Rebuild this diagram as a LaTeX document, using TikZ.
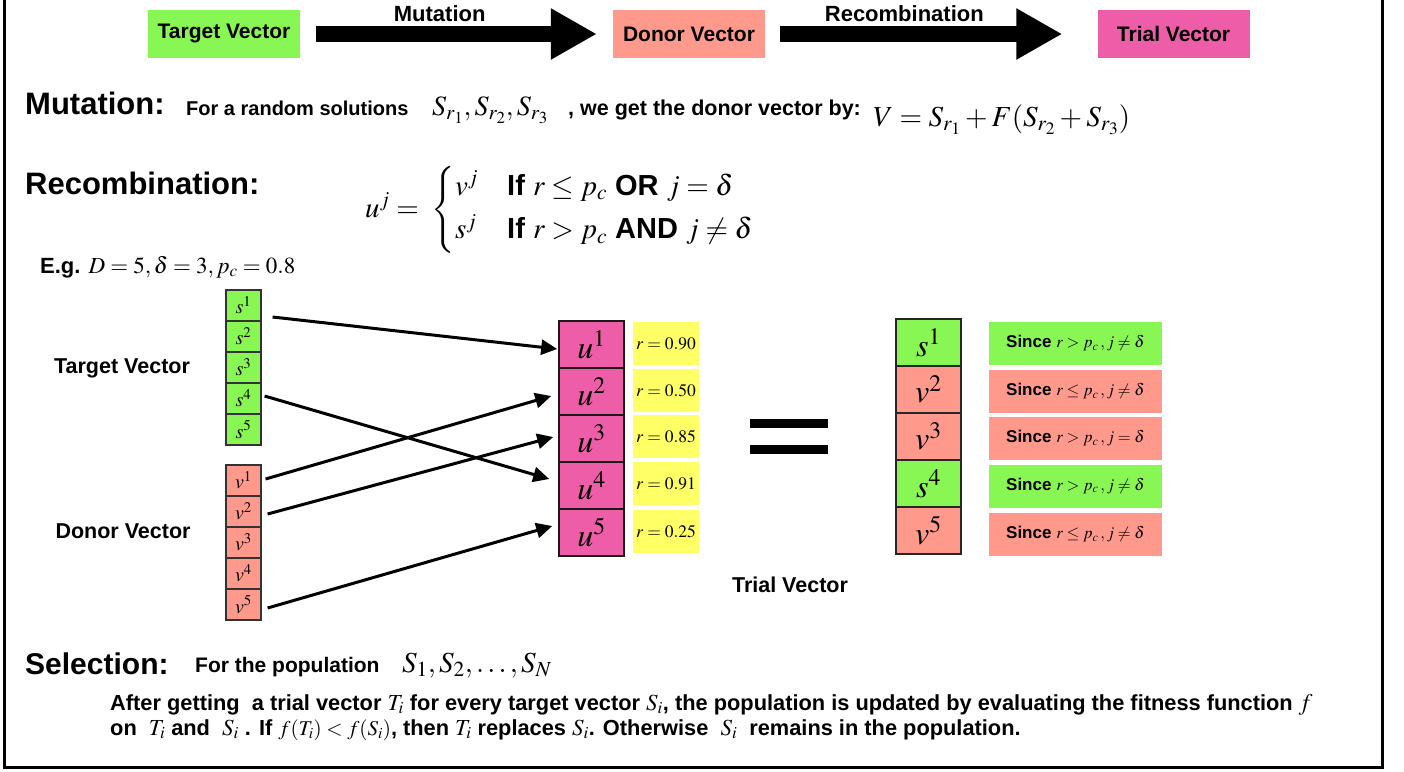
\documentclass[tikz,border=0pt]{standalone}
\usepackage{amsmath}
\usepackage{mathptmx}
\usepackage[no-math]{fontspec}
\setmainfont{Liberation Sans}
\usetikzlibrary{arrows.meta}
\definecolor{tgreen}{RGB}{137,247,83}
\definecolor{dsalmon}{RGB}{255,153,140}
\definecolor{tpink}{RGB}{238,93,168}
\definecolor{ryellow}{RGB}{255,255,102}
\newcommand{\fsz}[1]{\fontsize{#1}{#1}\selectfont}
\tikzset{
  topbox/.style={minimum width=152pt, minimum height=48pt, inner sep=0pt, font=\fsz{21}\bfseries},
  bigarrow/.style={line width=16pt, -{Triangle[length=46pt,width=48pt]}},
  arrlbl/.style={pos=0.44, anchor=base, yshift=13pt, outer sep=0pt, inner sep=0pt, font=\fsz{22}\bfseries},
  head/.style={anchor=base west, inner sep=0pt, font=\fsz{31}\bfseries},
  txt/.style={anchor=base west, inner sep=0pt, font=\fsz{21}\bfseries},
  lbl/.style={inner sep=0pt, font=\fsz{21.5}\bfseries},
  cell/.style={draw=black!80, line width=1.2pt, minimum width=35pt, minimum height=31pt, inner sep=0pt, font=\fsz{20}},
  ucell/.style={draw=black!90, line width=1.6pt, fill=tpink, minimum width=65pt, minimum height=47pt, inner sep=0pt, font=\fsz{32}},
  tcell/.style={draw=black!85, line width=1.4pt, minimum width=65pt, minimum height=47pt, inner sep=0pt, font=\fsz{32}},
  rbox/.style={fill=ryellow, minimum width=66pt, minimum height=43pt, inner sep=0pt, font=\fsz{17.5}},
  since/.style={minimum width=173pt, minimum height=43pt, inner sep=0pt, font=\fsz{17}\bfseries},
  conn/.style={line width=3pt, -{Triangle[length=16pt,width=15pt]}}
}
\begin{document}
\begin{tikzpicture}[x=1pt,y=-1pt]
\useasboundingbox (0,0) rectangle (1404,771);
% frame
\draw[line width=3pt] (4,0) -- (4,767) -- (1382,767) -- (1382,0);
% top flow
\node[topbox, fill=tgreen] (tv) at (224,34) {Target Vector};
\node[topbox, fill=dsalmon] (dv) at (689,34) {Donor Vector};
\node[topbox, fill=tpink] (trv) at (1173.5,34) {Trial Vector};
\draw[bigarrow] ([xshift=16pt]tv.east) -- ([xshift=-16pt]dv.west) node[arrlbl] (mlbl) {Mutation};
\draw[bigarrow] ([xshift=15pt]dv.east) -- ([xshift=-35pt]trv.west) node[arrlbl] (rlbl) {Recombination};
% mutation row
\node[head] (mh) at (25,114) {Mutation:};
\node[txt, font=\fsz{20}\bfseries] (m1) at (186,115) {For a random solutions};
\node[txt, font=\fsz{28}] (m2) at (432,115) {$S_{r_1}, S_{r_2}, S_{r_3}$};
\node[txt, font=\fsz{21.5}\bfseries] (m3) at (568,115) {, we get the donor vector by:};
\node[txt, font=\fsz{29}] (m4) at (873,126) {$V = S_{r_1} + F(S_{r_2} + S_{r_3})$};
% recombination
\node[head] (rh) at (25,194) {Recombination:};
\node[anchor=west, inner sep=0pt, font=\fsz{29}] (rf) at (365,210) {$u^j = \;\begin{cases} v^j & \text{\bfseries If } r \leq p_c \text{ \bfseries OR } j = \delta \\[9pt] s^j & \text{\bfseries If } r > p_c \text{ \bfseries AND } j \neq \delta \end{cases}$};
\node[txt, font=\fsz{22}\bfseries] (eg) at (40,273) {E.g. {\fsz{23}$D = 5, \delta = 3, p_c = 0.8$}};
% target and donor vectors
\foreach \i in {1,...,5} {
  \node[cell, fill=tgreen] (s\i) at (243.5,274.5+31*\i) {$s^{\i}$};
  \node[cell, fill=dsalmon] (v\i) at (243.5,449.5+31*\i) {$v^{\i}$};
  \node[ucell] (u\i) at (591.5,297.5+47*\i) {$u^{\i}$};
}
\node[lbl] (tl) at (122,368) {Target Vector};
\node[lbl] (dl) at (123,531) {Donor Vector};
\node[rbox, anchor=west] (r1) at ([xshift=8pt,yshift=1pt]u1.east) {$r = 0.90$};
\node[rbox, anchor=west] (r2) at ([xshift=8pt,yshift=1pt]u2.east) {$r = 0.50$};
\node[rbox, anchor=west] (r3) at ([xshift=8pt,yshift=2pt]u3.east) {$r = 0.85$};
\node[rbox, anchor=west] (r4) at ([xshift=8pt,yshift=2pt]u4.east) {$r = 0.91$};
\node[rbox, anchor=west] (r5) at ([xshift=8pt,yshift=1pt]u5.east) {$r = 0.25$};
% connectors
\draw[conn] ([xshift=11pt,yshift=-11.5pt]s1.east) -- ([xshift=-1pt,yshift=-4.5pt]u1.west);
\draw[conn] ([xshift=3pt,yshift=2.5pt]s4.east) -- ([xshift=-9pt,yshift=6.5pt]u4.west);
\draw[conn] ([xshift=4pt,yshift=1.5pt]v1.east) -- ([xshift=-7pt,yshift=-4.5pt]u2.west);
\draw[conn] ([xshift=6pt,yshift=-2.5pt]v2.east) -- ([xshift=-5pt,yshift=1.5pt]u3.west);
\draw[conn] ([xshift=6pt,yshift=-3.5pt]v5.east) -- ([xshift=-6pt,yshift=6.5pt]u5.west);
% equals
\fill (750,419) rectangle (828,428);
\fill (750,445) rectangle (828,454);
\node[lbl] (trl) at (790,585) {Trial Vector};
% resulting trial vector
\node[tcell, fill=tgreen] (t1) at (928.5,342.5) {$s^1$};
\node[tcell, fill=dsalmon] (t2) at (928.5,389.5) {$v^2$};
\node[tcell, fill=dsalmon] (t3) at (928.5,436.5) {$v^3$};
\node[tcell, fill=tgreen] (t4) at (928.5,483.5) {$s^4$};
\node[tcell, fill=dsalmon] (t5) at (928.5,530.5) {$v^5$};
\node[since, fill=tgreen, anchor=west] (c1) at ([xshift=27pt,yshift=-1pt]t1.east) {Since {\fsz{16.5}$r > p_c\,, j \neq \delta$}};
\node[since, fill=dsalmon, anchor=west] (c2) at ([xshift=27pt,yshift=-2pt]t2.east) {Since {\fsz{16.5}$r \leq p_c\,, j \neq \delta$}};
\node[since, fill=dsalmon, anchor=west] (c3) at ([xshift=27pt,yshift=-2pt]t3.east) {Since {\fsz{16.5}$r > p_c\,, j = \delta$}};
\node[since, fill=tgreen, anchor=west] (c4) at ([xshift=27pt,yshift=-2.5pt]t4.east) {Since {\fsz{16.5}$r > p_c\,, j \neq \delta$}};
\node[since, fill=dsalmon, anchor=west] (c5) at ([xshift=27pt,yshift=-4pt]t5.east) {Since {\fsz{16.5}$r \leq p_c\,, j \neq \delta$}};
% selection
\node[head, font=\fsz{30}\bfseries] (sh) at (25,674) {Selection:};
\node[txt, font=\fsz{21}\bfseries] (s1t) at (195,672) {For the population};
\node[txt, font=\fsz{29}] (s2t) at (402,672) {$S_1, S_2, \dots, S_N$};
\node[txt, font=\fsz{21.8}\bfseries] (l1) at (110,710) {After getting\ \ a trial vector {\fsz{23}$T_i$} for every target vector {\fsz{23}$S_i$}, the population is updated by evaluating the fitness function {\fsz{24}$f$}};
\node[txt, font=\fsz{21.8}\bfseries] (l2) at (110,735) {on\ \ {\fsz{23}$T_i$} and\ \ {\fsz{23}$S_i$} . If {\fsz{21}$f(T_i) < f(S_i)$}, then {\fsz{23}$T_i$} replaces {\fsz{23}$S_i$}. Otherwise\ \ {\fsz{23}$S_i$}\ \ remains in the population.};
\end{tikzpicture}
\end{document}
